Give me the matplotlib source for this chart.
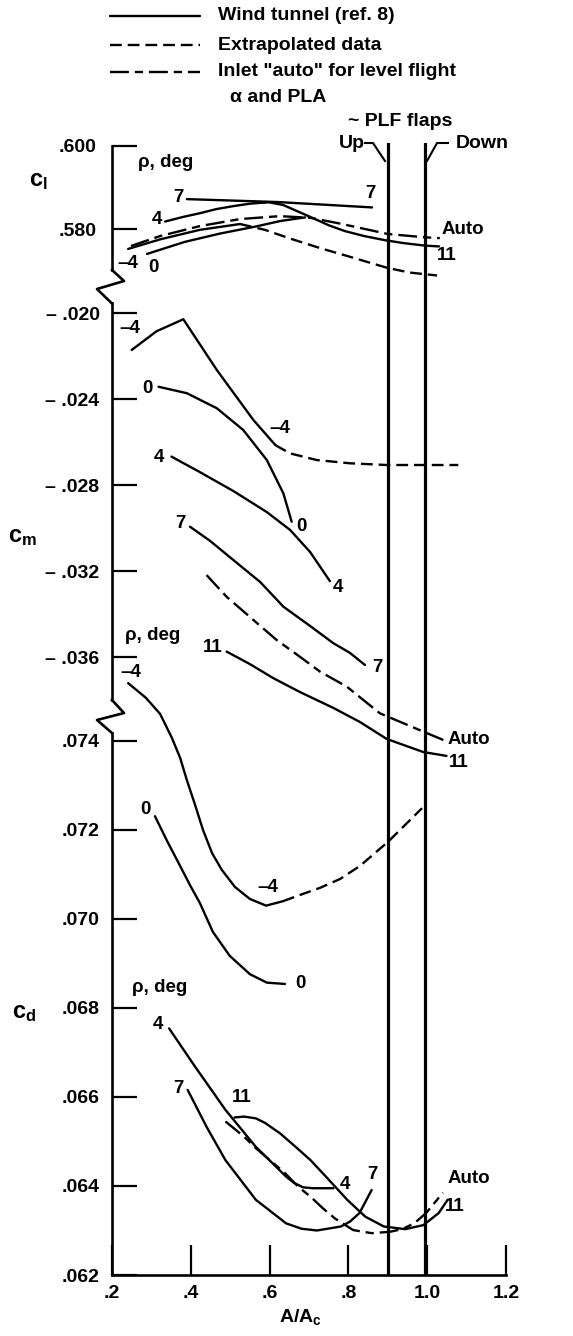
import matplotlib
matplotlib.use("Agg")
import matplotlib.pyplot as plt

plt.rcParams['font.family'] = ['Liberation Sans', 'DejaVu Sans']
plt.rcParams['font.weight'] = 'bold'
plt.rcParams['mathtext.fontset'] = 'custom'
plt.rcParams['mathtext.rm'] = 'Liberation Sans:bold'
plt.rcParams['mathtext.it'] = 'Liberation Sans:bold'
plt.rcParams['mathtext.bf'] = 'Liberation Sans:bold'

# ---- data: lift coefficient c_l ----
cl7_x = [0.39, 0.62, 0.86]
cl7_y = [0.5872, 0.5865, 0.5852]
cl4_x = [0.335, 0.38, 0.423, 0.465, 0.507, 0.55, 0.59]
cl4_y = [0.5818, 0.5829, 0.5838, 0.5848, 0.5855, 0.5861, 0.5864]
cl11_x = [0.56, 0.60, 0.634, 0.67, 0.713, 0.75, 0.791, 0.84, 0.893, 0.94, 0.994, 1.03]
cl11_y = [0.5865, 0.5864, 0.5858, 0.5843, 0.5825, 0.5809, 0.5795, 0.5783, 0.5773, 0.5766, 0.5760, 0.5758]
cl0_x = [0.289, 0.385, 0.474, 0.565, 0.626, 0.690]
cl0_y = [0.5740, 0.5769, 0.5789, 0.5806, 0.5819, 0.5828]
clm4_x = [0.241, 0.322, 0.423, 0.525]
clm4_y = [0.5752, 0.5775, 0.5798, 0.5812]
clm4_ext_x = [0.525, 0.588, 0.652, 0.728, 0.804, 0.900, 0.956, 1.025]
clm4_ext_y = [0.5812, 0.5798, 0.5777, 0.5754, 0.5733, 0.5706, 0.5695, 0.5688]
clauto_x = [0.248, 0.322, 0.423, 0.525, 0.626, 0.703, 0.779, 0.90, 0.994, 1.032]
clauto_y = [0.5759, 0.5783, 0.5807, 0.5824, 0.5831, 0.5827, 0.5813, 0.5788, 0.5780, 0.5778]

# ---- data: pitching moment c_m ----
cmm4_x = [0.250, 0.313, 0.381, 0.466, 0.559, 0.615]
cmm4_y = [-0.02172, -0.02085, -0.02029, -0.02265, -0.02498, -0.02615]
cmm4_ext_x = [0.615, 0.652, 0.72, 0.804, 0.897, 0.99, 1.079]
cmm4_ext_y = [-0.02615, -0.02653, -0.02684, -0.02699, -0.02707, -0.02707, -0.02707]
cm0_x = [0.318, 0.390, 0.466, 0.533, 0.593, 0.635, 0.656]
cm0_y = [-0.02343, -0.02373, -0.02443, -0.02544, -0.02684, -0.02839, -0.02971]
cm4_x = [0.351, 0.423, 0.508, 0.593, 0.652, 0.703, 0.753]
cm4_y = [-0.02668, -0.02740, -0.02828, -0.02926, -0.03009, -0.03112, -0.03247]
cm7_x = [0.398, 0.449, 0.508, 0.576, 0.635, 0.703, 0.762, 0.804, 0.842]
cm7_y = [-0.02994, -0.03060, -0.03149, -0.03251, -0.03366, -0.03456, -0.03536, -0.03581, -0.03637]
cm11_x = [0.491, 0.550, 0.609, 0.677, 0.762, 0.829, 0.897, 0.990, 1.049]
cm11_y = [-0.03575, -0.03633, -0.03698, -0.03763, -0.03837, -0.03902, -0.03981, -0.04042, -0.04060]
cmauto_x = [0.440, 0.491, 0.559, 0.618, 0.677, 0.728, 0.796, 0.880, 0.990, 1.041]
cmauto_y = [-0.03219, -0.03320, -0.03428, -0.03521, -0.03599, -0.03668, -0.03738, -0.03862, -0.03947, -0.03986]

# ---- data: drag coefficient c_d ----
cdm4_x = [0.241, 0.286, 0.322, 0.352, 0.373, 0.390, 0.411, 0.431, 0.454, 0.479, 0.512, 0.550, 0.591, 0.634]
cdm4_y = [0.07530, 0.07497, 0.07461, 0.07407, 0.07362, 0.07312, 0.07256, 0.07200, 0.07148, 0.07110,
          0.07072, 0.07045, 0.07030, 0.07040]
cdm4_ext_x = [0.634, 0.677, 0.728, 0.779, 0.829, 0.900, 0.987]
cdm4_ext_y = [0.07040, 0.07054, 0.07070, 0.07090, 0.07119, 0.07173, 0.07249]
cd0_x = [0.309, 0.340, 0.373, 0.398, 0.423, 0.456, 0.499, 0.550, 0.593, 0.639]
cd0_y = [0.07231, 0.07175, 0.07119, 0.07076, 0.07036, 0.06971, 0.06917, 0.06876, 0.06857, 0.06854]
cd4_x = [0.345, 0.411, 0.488, 0.565, 0.642, 0.662, 0.685, 0.71, 0.762]
cd4_y = [0.06754, 0.06668, 0.06571, 0.06488, 0.06421, 0.06407, 0.06397, 0.06395, 0.06395]
cd7_x = [0.392, 0.440, 0.488, 0.527, 0.565, 0.642, 0.681, 0.720, 0.781, 0.804, 0.828, 0.859]
cd7_y = [0.06616, 0.06533, 0.06458, 0.06413, 0.06369, 0.06316, 0.06304, 0.06300, 0.06309, 0.06320,
         0.06339, 0.06391]
cd11_x = [0.511, 0.535, 0.565, 0.588, 0.627, 0.666, 0.704, 0.743, 0.797, 0.843, 0.890, 0.944, 0.990,
          1.029, 1.052]
cd11_y = [0.06554, 0.06556, 0.06552, 0.06542, 0.06518, 0.06488, 0.06458, 0.06421, 0.06369, 0.06331,
          0.06309, 0.06303, 0.06312, 0.06339, 0.06369]
cdauto_x = [0.488, 0.535, 0.565, 0.601, 0.639, 0.673, 0.704, 0.735, 0.766, 0.812, 0.859, 0.905, 0.936,
            0.967, 0.997, 1.040]
cdauto_y = [0.06545, 0.06511, 0.06485, 0.06458, 0.06429, 0.06398, 0.06376, 0.06350, 0.06327, 0.06301,
            0.06294, 0.06297, 0.06303, 0.06316, 0.06339, 0.06385]

flap_x = [0.90, 0.995]  # PLF flaps up / down

cl_ticks = [0.580, 0.600]
cl_ticklabels = ['.580', '.600']
cm_ticks = [-0.020, -0.024, -0.028, -0.032, -0.036]
cm_ticklabels = ['\u2013 .020', '\u2013 .024', '\u2013 .028', '\u2013 .032', '\u2013 .036']
cd_ticks = [0.062, 0.064, 0.066, 0.068, 0.070, 0.072, 0.074]
cd_ticklabels = ['.062', '.064', '.066', '.068', '.070', '.072', '.074']
x_ticks = [0.2, 0.4, 0.6, 0.8, 1.0, 1.2]
x_ticklabels = ['.2', '.4', '.6', '.8', '1.0', '1.2']

# curve annotations (text, x, y) in each panel's data units
cl_notes = [('\u03c1, deg', 0.337, 0.5960), ('7', 0.368, 0.5877), ('4', 0.314, 0.5822),
            ('\u20134', 0.241, 0.5718), ('0', 0.304, 0.5708), ('7', 0.855, 0.5886),
            ('Auto', 1.091, 0.5798), ('11', 1.050, 0.5737)]
cm_notes = [('\u20134', 0.246, -0.02070), ('0', 0.289, -0.02349), ('\u20134', 0.626, -0.02535),
            ('4', 0.319, -0.02670), ('0', 0.682, -0.02995), ('7', 0.373, -0.02977),
            ('4', 0.774, -0.03279), ('\u03c1, deg', 0.304, -0.03498), ('11', 0.456, -0.03558),
            ('7', 0.873, -0.03651), ('Auto', 1.106, -0.03986), ('11', 1.081, -0.04093)]
cd_notes = [('\u20134', 0.248, 0.07553), ('0', 0.284, 0.07245), ('\u20134', 0.596, 0.07070),
            ('0', 0.677, 0.06856), ('\u03c1, deg', 0.322, 0.06845), ('4', 0.317, 0.06762),
            ('7', 0.368, 0.06620), ('11', 0.530, 0.06598), ('4', 0.791, 0.06404),
            ('7', 0.862, 0.06425), ('Auto', 1.106, 0.06416), ('11', 1.071, 0.06353)]

W, H = 573, 1336
fig = plt.figure(figsize=(W / 100, H / 100), dpi=100)


def frame(top, bottom):
    # axes rectangle from pixel rows of the figure
    return [112 / W, 1 - bottom / H, 394 / W, (bottom - top) / H]


solid = dict(color='k', lw=1.7, solid_joinstyle='round', solid_capstyle='round')
extrap = dict(color='k', lw=1.7, ls=(0, (5, 2.5)))
auto = dict(color='k', lw=1.7, ls=(0, (8, 2.5, 3.5, 2.5)))

ax_v = fig.add_axes(frame(143, 1275))
ax_l = fig.add_axes(frame(130, 300))
ax_m = fig.add_axes(frame(290, 780))
ax_d = fig.add_axes(frame(660, 1275))
ax_o = fig.add_axes([0, 0, 1, 1])

ax_v.set_xlim(0.2, 1.2)
ax_v.set_ylim(0, 1)
ax_v.axis('off')
for fx in flap_x:
    ax_v.axvline(fx, color='k', lw=2.3)

panels = [
    (ax_l, (0.562892, 0.603855), (0.57012, 0.600), cl_ticks, cl_ticklabels, 11),
    (ax_m, (-0.041721, -0.018930), (-0.0380, -0.019535), cm_ticks, cm_ticklabels, 9),
    (ax_d, (0.062, 0.075820), (0.062, 0.07418), cd_ticks, cd_ticklabels, 9),
]
for ax, ylim, bounds, ticks, labels, pad in panels:
    ax.set_facecolor('none')
    ax.set_xlim(0.2, 1.2)
    ax.set_ylim(*ylim)
    for side in ['top', 'right', 'bottom']:
        ax.spines[side].set_visible(False)
    ax.spines['left'].set_bounds(*bounds)
    ax.spines['left'].set_linewidth(1.9)
    ax.set_yticks(ticks, labels)
    ax.tick_params(axis='y', direction='in', length=18, width=1.6, pad=pad, labelsize=14)
    ax.tick_params(axis='x', bottom=False, labelbottom=False)

ax_d.spines['bottom'].set_visible(True)
ax_d.spines['bottom'].set_linewidth(1.9)
ax_d.spines['bottom'].set_bounds(0.2, 1.2)
ax_d.set_xticks(x_ticks, x_ticklabels)
ax_d.tick_params(axis='x', bottom=True, labelbottom=True, direction='in', length=21.6,
                 width=1.6, pad=7, labelsize=14)

# c_l curves
ax_l.plot(cl7_x, cl7_y, **solid)
ax_l.plot(cl4_x, cl4_y, **solid)
ax_l.plot(cl11_x, cl11_y, **solid)
ax_l.plot(cl0_x, cl0_y, **solid)
ax_l.plot(clm4_x, clm4_y, **solid)
ax_l.plot(clm4_ext_x, clm4_ext_y, **extrap)
ax_l.plot(clauto_x, clauto_y, **auto)

# c_m curves
ax_m.plot(cmm4_x, cmm4_y, **solid)
ax_m.plot(cmm4_ext_x, cmm4_ext_y, **extrap)
ax_m.plot(cm0_x, cm0_y, **solid)
ax_m.plot(cm4_x, cm4_y, **solid)
ax_m.plot(cm7_x, cm7_y, **solid)
ax_m.plot(cm11_x, cm11_y, **solid)
ax_m.plot(cmauto_x, cmauto_y, **auto)

# c_d curves
ax_d.plot(cdm4_x, cdm4_y, **solid)
ax_d.plot(cdm4_ext_x, cdm4_ext_y, **extrap)
ax_d.plot(cd0_x, cd0_y, **solid)
ax_d.plot(cd4_x, cd4_y, **solid)
ax_d.plot(cd7_x, cd7_y, **solid)
ax_d.plot(cd11_x, cd11_y, **solid)
ax_d.plot(cdauto_x, cdauto_y, **auto)

for ax, notes in [(ax_l, cl_notes), (ax_m, cm_notes), (ax_d, cd_notes)]:
    for txt, x, y in notes:
        ax.text(x, y, txt, ha='center', va='center', fontsize=13.5)

# overlay in pixel units: axis breaks, legend, flap labels, axis titles
ax_o.set_xlim(0, W)
ax_o.set_ylim(H, 0)
ax_o.axis('off')
ax_o.set_facecolor('none')

ax_o.plot([112, 124, 97, 111.5], [270, 281, 289, 303], color='k', lw=1.9)
ax_o.plot([112, 124, 97, 112], [700, 713, 720, 733], color='k', lw=1.9)

ax_o.plot([110, 200], [16, 16], **solid)
ax_o.plot([110, 200], [45, 45], **extrap)
ax_o.plot([110, 200], [72, 72], **auto)
ax_o.text(218, 16, 'Wind tunnel (ref. 8)', ha='left', va='center', fontsize=14)
ax_o.text(218, 45, 'Extrapolated data', ha='left', va='center', fontsize=14)
ax_o.text(218, 72, 'Inlet "auto" for level flight', ha='left', va='center', fontsize=14)
ax_o.text(230, 97, '\u03b1 and PLA', ha='left', va='center', fontsize=14)

ax_o.text(400, 121, '~ PLF flaps', ha='center', va='center', fontsize=14)
ax_o.text(352, 143, 'Up', ha='center', va='center', fontsize=14)
ax_o.text(482, 143, 'Down', ha='center', va='center', fontsize=14)
ax_o.plot([365, 373, 385], [143, 143, 161], color='k', lw=1.5)
ax_o.plot([427, 437, 448], [161, 143, 143], color='k', lw=1.5)

ax_o.text(38, 181, r'$\mathrm{c_l}$', ha='center', va='center', fontsize=17)
ax_o.text(22, 537, r'$\mathrm{c_m}$', ha='center', va='center', fontsize=17)
ax_o.text(24, 1013, r'$\mathrm{c_d}$', ha='center', va='center', fontsize=17)
ax_o.text(300, 1317, r'$\mathrm{A/A_c}$', ha='center', va='center', fontsize=14)

fig.savefig('out.png', dpi=100)
